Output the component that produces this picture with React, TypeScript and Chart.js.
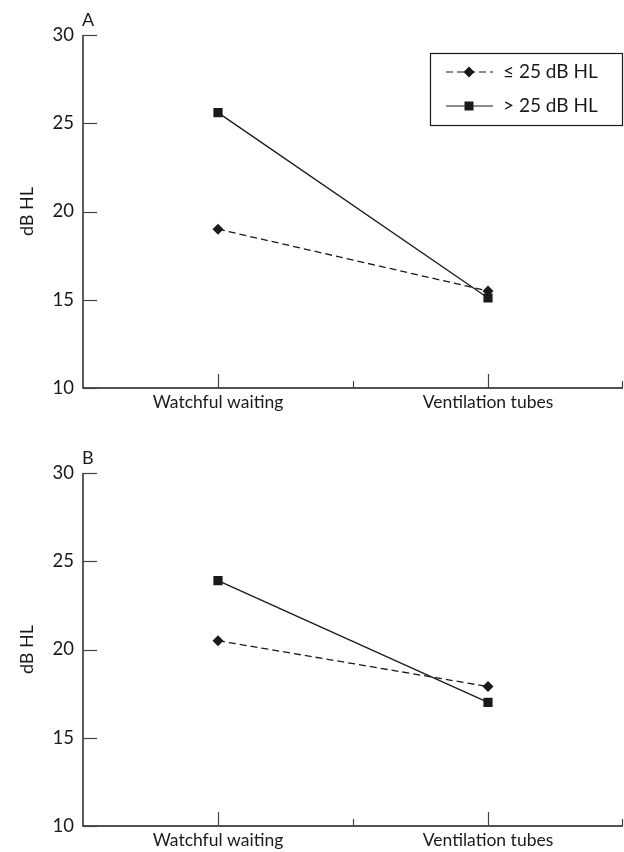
import React, { useEffect, useRef } from "react";
import { Chart, registerables } from "chart.js";

Chart.register(...registerables);

const categories = ["Watchful waiting", "Ventilation tubes"];
const seriesLabels = ["≤ 25 dB HL", "> 25 dB HL"];
const panelALow = [19.0, 15.5];
const panelAHigh = [25.6, 15.1];
const panelBLow = [20.5, 17.9];
const panelBHigh = [23.9, 17.0];
const yTicks = [10, 15, 20, 25, 30];
const panelLetters = ["A", "B"];

const FONT = "Lato, 'DejaVu Sans', sans-serif";
const INK = "#1a1a1a";

function makeAxesPlugin(letter: string, showLegend: boolean) {
  return {
    id: "customAxes" + letter,
    afterDraw(chart: any) {
      const { ctx, chartArea } = chart;
      const { left, right, top, bottom } = chartArea;
      const x = chart.scales.x;
      const y = chart.scales.y;
      ctx.save();
      ctx.strokeStyle = INK;
      ctx.lineWidth = 1.4;
      ctx.beginPath();
      ctx.moveTo(left, top);
      ctx.lineTo(left, bottom);
      ctx.lineTo(right, bottom);
      ctx.stroke();
      ctx.strokeStyle = "#444";
      ctx.lineWidth = 1.2;
      yTicks.forEach((v) => {
        const py = Math.round(y.getPixelForValue(v)) + 0.5;
        ctx.beginPath();
        ctx.moveTo(left, py);
        ctx.lineTo(left + 14, py);
        ctx.stroke();
      });
      categories.forEach((_, i) => {
        const px = Math.round(x.getPixelForValue(i)) + 0.5;
        ctx.beginPath();
        ctx.moveTo(px, bottom);
        ctx.lineTo(px, bottom - 14);
        ctx.stroke();
        const bx = Math.min(Math.round(x.getPixelForValue(i + 0.5)) + 0.5, right - 0.5);
        ctx.beginPath();
        ctx.moveTo(bx, bottom);
        ctx.lineTo(bx, bottom - 7);
        ctx.stroke();
      });
      // panel letter
      ctx.fillStyle = INK;
      ctx.font = `18px ${FONT}`;
      ctx.textAlign = "left";
      ctx.textBaseline = "alphabetic";
      ctx.fillText(letter, left - 1, top - 9);

      if (showLegend) {
        const bw = 193;
        const bh = 72;
        const bxl = right - bw;
        const byt = top + 18;
        ctx.strokeStyle = INK;
        ctx.lineWidth = 1.2;
        ctx.strokeRect(bxl + 0.5, byt + 0.5, bw - 1, bh);
        chart.data.datasets.forEach((ds: any, i: number) => {
          const ly = byt + 19 + i * 34;
          ctx.save();
          ctx.strokeStyle = INK;
          ctx.lineWidth = 1.2;
          ctx.setLineDash(ds.borderDash || []);
          ctx.beginPath();
          ctx.moveTo(bxl + 16, ly);
          ctx.lineTo(bxl + 63, ly);
          ctx.stroke();
          ctx.setLineDash([]);
          ctx.fillStyle = INK;
          const mx = bxl + 39;
          ctx.beginPath();
          if (ds.pointStyle === "rectRot") {
            const r = 5.5;
            ctx.moveTo(mx, ly - r);
            ctx.lineTo(mx + r, ly);
            ctx.lineTo(mx, ly + r);
            ctx.lineTo(mx - r, ly);
            ctx.closePath();
          } else {
            const s = 4.5;
            ctx.rect(mx - s, ly - s, 2 * s, 2 * s);
          }
          ctx.fill();
          ctx.font = `19px ${FONT}`;
          ctx.textBaseline = "middle";
          ctx.textAlign = "left";
          ctx.fillText(ds.label, bxl + 73, ly);
          ctx.restore();
        });
      }
      ctx.restore();
    },
  };
}

function makeConfig(low: number[], high: number[], letter: string, topPad: number, xHeight: number, showLegend: boolean): any {
  return {
    type: "line",
    data: {
      labels: categories,
      datasets: [
        {
          label: seriesLabels[0],
          data: low,
          borderColor: INK,
          backgroundColor: INK,
          borderWidth: 1.3,
          borderDash: [7, 4],
          pointStyle: "rectRot",
          pointRadius: 5.5,
          pointBorderWidth: 0,
        },
        {
          label: seriesLabels[1],
          data: high,
          borderColor: INK,
          backgroundColor: INK,
          borderWidth: 1.3,
          pointStyle: "rect",
          pointRadius: 6.5,
          pointBorderWidth: 0,
        },
      ],
    },
    options: {
      responsive: false,
      animation: false,
      devicePixelRatio: 1,
      layout: { autoPadding: false, padding: { top: topPad, right: 1, left: 0, bottom: 0 } },
      plugins: { legend: { display: false }, tooltip: { enabled: false } },
      scales: {
        x: {
          type: "category",
          offset: true,
          grid: { display: false, drawTicks: false },
          border: { display: false },
          ticks: { color: INK, font: { family: FONT, size: 17.5 }, padding: 4, maxRotation: 0 },
          afterFit: (s: any) => {
            s.height = xHeight;
            s.paddingLeft = 0;
            s.paddingRight = 0;
          },
        },
        y: {
          min: 10,
          max: 30,
          grid: { display: false, drawTicks: false },
          border: { display: false },
          ticks: { stepSize: 5, color: INK, font: { family: FONT, size: 18.5 }, padding: 9 },
          title: { display: true, text: "dB HL", color: INK, font: { family: FONT, size: 18 }, padding: { top: 16, bottom: 0 } },
          afterFit: (s: any) => {
            s.width = 83;
            s.paddingTop = 0;
            s.paddingBottom = 0;
          },
        },
      },
    },
    plugins: [makeAxesPlugin(letter, showLegend)],
  };
}

export default function App() {
  const refA = useRef<HTMLCanvasElement>(null);
  const refB = useRef<HTMLCanvasElement>(null);
  useEffect(() => {
    const a = new Chart(refA.current!, makeConfig(panelALow, panelAHigh, panelLetters[0], 35, 38, true));
    const b = new Chart(refB.current!, makeConfig(panelBLow, panelBHigh, panelLetters[1], 47, 26, false));
    return () => {
      a.destroy();
      b.destroy();
    };
  }, []);
  return (
    <div style={{ position: "absolute", left: 0, top: 0, width: 624, height: 852, background: "#fff" }}>
      <canvas ref={refA} width={624} height={426} style={{ display: "block", width: 624, height: 426 }} />
      <canvas ref={refB} width={624} height={426} style={{ display: "block", width: 624, height: 426 }} />
    </div>
  );
}
